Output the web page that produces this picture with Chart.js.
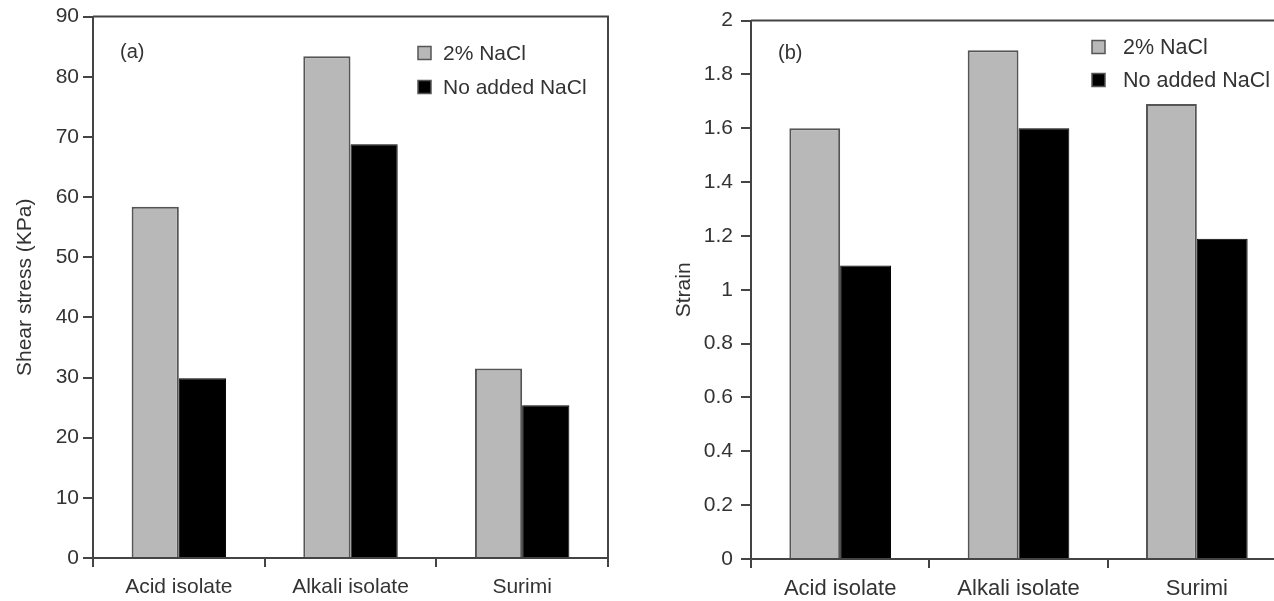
<!DOCTYPE html>
<html>
<head>
<meta charset="utf-8">
<script src="https://cdn.jsdelivr.net/npm/chart.js@4/dist/chart.umd.min.js"></script>
<style>
  html, body { margin: 0; padding: 0; background: #fff; overflow: hidden; }
  body { width: 1274px; height: 601px; position: relative; }
  .panel { position: absolute; top: 0; height: 601px; }
  #wrapA { left: 0; width: 640px; }
  #wrapB { left: 640px; width: 656px; }
</style>
</head>
<body>
<div class="panel" id="wrapA"><canvas id="chartA"></canvas></div>
<div class="panel" id="wrapB"><canvas id="chartB"></canvas></div>
<script>
// data
var categories = ['Acid isolate', 'Alkali isolate', 'Surimi'];
var seriesNames = ['2% NaCl', 'No added NaCl'];
var shearNaCl = [58.4, 83.4, 31.5];
var shearNoNaCl = [29.9, 68.8, 25.4];
var strainNaCl = [1.6, 1.89, 1.69];
var strainNoNaCl = [1.09, 1.6, 1.19];

var FONT = "'Liberation Sans', Arial, sans-serif";
var GREY = '#b8b8b8';
var AXIS = '#444';

Chart.defaults.font.family = FONT;
Chart.defaults.color = '#333';

// frame, panel letter and legend drawn inside chart area
var panelDeco = {
  id: 'panelDeco',
  afterDraw: function(chart, args, opts) {
    var ctx = chart.ctx, a = chart.chartArea;
    ctx.save();
    ctx.strokeStyle = AXIS;
    ctx.lineWidth = 2;
    ctx.beginPath();
    ctx.moveTo(a.left, a.top);
    ctx.lineTo(a.right, a.top);
    ctx.lineTo(a.right, a.bottom);
    ctx.stroke();

    ctx.fillStyle = '#333';
    ctx.font = '20px ' + FONT;
    ctx.textBaseline = 'middle';
    ctx.fillText(opts.letter, opts.letterX, opts.letterY);

    ctx.font = opts.legendSize + 'px ' + FONT;
    chart.data.datasets.forEach(function(ds, i) {
      var y = opts.legendY + i * opts.legendGap;
      ctx.fillStyle = ds.backgroundColor;
      ctx.fillRect(opts.legendX, y - 6.5, 13, 13);
      ctx.strokeStyle = '#555';
      ctx.lineWidth = 1.5;
      ctx.strokeRect(opts.legendX, y - 6.5, 13, 13);
      ctx.fillStyle = '#333';
      ctx.fillText(ds.label, opts.legendX + opts.textGap, y + 1);
    });
    ctx.restore();
  }
};

function makeChart(id, a, b, yOpts, deco, geom) {
  return new Chart(document.getElementById(id), {
    type: 'bar',
    data: {
      labels: categories,
      datasets: [
        { label: seriesNames[0], data: a, backgroundColor: GREY, borderColor: '#555', borderWidth: 2 },
        { label: seriesNames[1], data: b, backgroundColor: '#000', borderColor: '#000', borderWidth: 1 }
      ]
    },
    options: {
      responsive: true,
      maintainAspectRatio: false,
      animation: false,
      layout: { padding: { top: geom.top, right: geom.right, left: 0, bottom: 0 } },
      plugins: { legend: { display: false }, tooltip: { enabled: false }, panelDeco: deco },
      datasets: { bar: { barPercentage: 1, categoryPercentage: geom.catPct } },
      scales: {
        x: {
          grid: { drawOnChartArea: false, drawTicks: true, tickLength: 9, color: AXIS, lineWidth: 2, offset: true },
          border: { color: AXIS, width: 2 },
          ticks: { font: { size: geom.font }, color: '#333', padding: 8 },
          afterFit: function(s) { s.height = geom.xHeight; }
        },
        y: {
          min: 0,
          max: yOpts.max,
          grid: { drawOnChartArea: false, drawTicks: true, tickLength: 10, color: AXIS, lineWidth: 2 },
          border: { color: AXIS, width: 2 },
          ticks: {
            stepSize: yOpts.step,
            font: { size: 21 },
            color: '#333',
            padding: yOpts.pad,
            callback: function(v) { return String(+v.toFixed(1)); }
          },
          title: { display: true, text: yOpts.title, font: { size: 21 }, color: '#333', padding: { top: yOpts.titlePad, bottom: 0 } },
          afterFit: function(s) { s.width = geom.yWidth; }
        }
      }
    },
    plugins: [panelDeco]
  });
}

makeChart('chartA', shearNaCl, shearNoNaCl,
  { max: 90, step: 10, title: 'Shear stress (KPa)', pad: 4, titlePad: 13 },
  { letter: '(a)', letterX: 120, letterY: 52, legendX: 418, legendY: 53, legendGap: 34, legendSize: 21, textGap: 25 },
  { top: 15, right: 32, catPct: 0.55, xHeight: 43, yWidth: 93, font: 21 });

makeChart('chartB', strainNaCl, strainNoNaCl,
  { max: 2, step: 0.2, title: 'Strain', pad: 8, titlePad: 32 },
  { letter: '(b)', letterX: 138, letterY: 53, legendX: 452, legendY: 47, legendGap: 33, legendSize: 21.5, textGap: 31 },
  { top: 20, right: 10, catPct: 0.57, xHeight: 42, yWidth: 111, font: 22 });
</script>
</body>
</html>
